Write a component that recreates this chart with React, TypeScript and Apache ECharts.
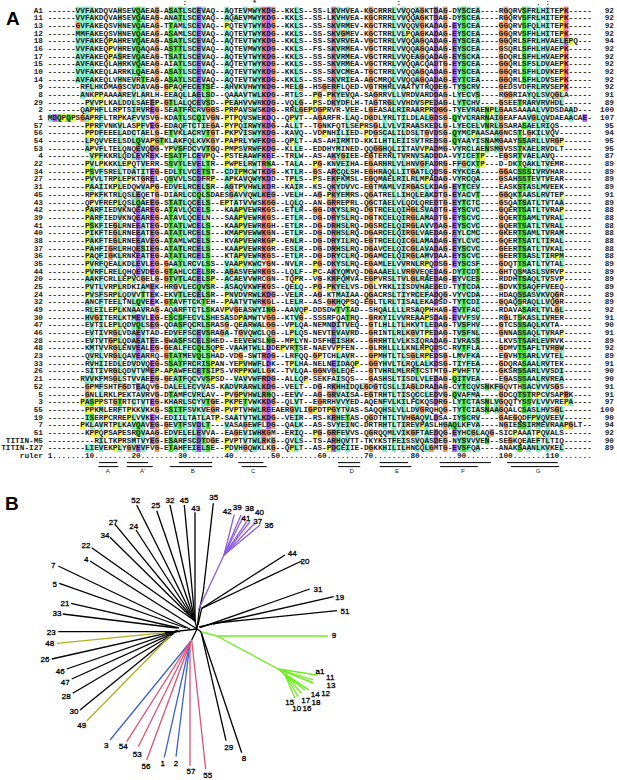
import React, { useEffect, useRef } from "react";
import * as echarts from "echarts";

const rowLabels = ["A1","11","13","12","18","16","17","15","10","14","9","8","29","2","1","57","56","54","53","4",
  "22","34","27","31","45","43","42","39","41","40","38","37","36","35","44","20","25","24","32","49","30",
  "47","46","28","48","23","33","26","21","52","5","3","55","19","7","51","TITIN-M5","TITIN-I27"];

const rowLengths = [92,92,92,92,94,92,92,92,92,92,92,91,89,100,107,95,94,95,95,87,
  89,89,89,89,91,89,88,88,88,88,88,88,88,89,89,89,89,89,89,92,91,
  90,91,89,92,89,91,90,90,91,91,97,100,90,94,92,90,89];

const seqLeft = [
"------VVFAKDQVAHSEVQAEAG-ASATLSCEVAQ--AQTEVMWYKDG--KKLS",
"------VVFAKDQVAHSEVQAEAG-ANATLSCEVAQ--AQAEVMWYKDG--KKLS",
"------GVFAKEQSVHNEVQAEAG-TTAMLSCEVAQ--PQTEVTWYKDG--KKLS",
"------MMFAKEQSVHNEVQAEAG-ASAMLSCEVAQ--AQTEVTWYKDG--KKLS",
"------VVFAKEQPAHREVQAEAG-ASATLSCEVAQ--AQTEVTWYKDG--KKLS",
"------VVFAKEQPVHREVQAQAG-ASTTLSCEVAQ--AQTEVMWYKDG--KKLS",
"------AVFAKEQPASREVQAEAG-TSATLSCEVAQ--AQTEVTWYKDG--KKLS",
"------AVFAKEQLAHRKVQAEAG-AIATLSCEVAQ--AQTEVTWYKDG--KKLS",
"------VVFAKEQLARRKLQAEAG-ASATLSCEVAQ--AQTEVTWYKDG--KKLS",
"------AVFAKEQLVHNEVRTEAG-ASATLSCEVAQ--AQTEVTWYKDG--KKLS",
"-------RFLHKDMAGSCVDAVAG-GPAQFECETSE--AHVKVHWYKDG--MELG",
"-------ANKPPAAAAREVLARLH-EEAQLLAELSD--QAAAVTWLKDG--RTLS",
"--------PVVPLKALDDLSAEEP-GTLALQCEVSD--PEAHVVWRKDG--VQLG",
"-------QAPHFLLRPTSIRVREG-SEATFRCRVGGS-PRPAVSWSKDG--RRLG",
"MDQPQPSGAPRFLTRPKAFVVSVG-KDATLSCQIVGN-PTPQVSWEKDQ--QPVT",
"--------PPRFVNKVLASPFVEG-EDAQFTCTIEGA-PYPQIRWYKDG--ALLT",
"--------PPDFEEELADCTAELG-ETVKLACRVTGT-PKPVISWYKDG--KAVQ",
"--------LPQVVEELSDLQVAPGTKLAKFQLKVKGY-PAPRLYWFKDG--QPLT",
"--------APVFLTELQNQEVQDG-YPVSFDCVVTGQ-PMPSVRWFKDG--KLLE",
"---------VPFKKRLQDLEVREK-ESATFLCEVPQ--PSTEAAWFKEE--TRLW",
"--------PVLPKKKLEPQTVERR-SSVTLEVELTR--PWPELRWTRNA--TALA",
"--------PSVFSRELTDATITEG-EDLTLVCETST--CDIPMCWTKDG--KTLR",
"--------PVVLTRPLEPKTGREL-QSVVLSCDFRP--APKAVQWYKDD--TPLS",
"--------PAAIIKPLEDQWVAPG-EDVELRCELSR--AGTPVHWLKDR--KAIR",
"--------RPKFKTRLQSLEQETG-DIARLCCQLSDAESGAVVQWLKEG--VELH",
"--------QPVFREPLQSLQAEEG-STATLQCELS--EPTATVVWSKGG--LQLQ",
"--------PARFIEDVKNQEAREG-ATAVLQCELS---KAAPVEWRKGS--ETLR",
"--------PARFIEDVKNQEAREG-ATAVLQCELN---SAAPVEWRKGS--ETLR",
"--------PSKFIEGLRNEEATEG-DTATLWCELS---KAAPVEWRKGH--ETLR",
"--------PIKFTEGLRNEEATEG-ATATLRCELS---KMAPVEWWKGN--ETLR",
"--------PAKFTEGLRNEEAVEG-ATAMLWCELS---KVAPVEWRKGP--ENLR",
"--------PAHFIGRLRHQESIEG-ATATLRCELS---KAAPVEWRKGR--ESLR",
"--------PAQFIGKLRNKEATEG-ATATLRCELS---KTAPVEWRKGS--ETLR",
"--------PVRFQEALKDLEVLEG-GAATLRCVLSS--VAAPVKWCYGN--NVLR",
"--------PVRFLRELQHQEVDEG-GTAHLCCELSR--AGASVEWRKGS--LQLF",
"--------AAKFCRLLEPVCGELG-GTVTLACELSP--ACAEVVWRCGN--TQPR",
"--------PVTLVRPLRDKIAMEK-HRGVLECQVSR--ASAQVKWFKGS--QELQ",
"--------PVSFSRPLQDVVTTEK-EKVTLECELSR--PNVDVRWLKDG--VELR",
"--------ANCFTEELTNLQVEEK-GTAVFTCKTEH--PAATVTWRKGL--LELR",
"--------RLEILEPLKNAAVRAG-AQARFTCTLSKAVPVGEASWYING--AAVQ",
"--------HVGITERLKTMEVLEG-ESCSFECVLSHESASDPAMWTVGG--KTVG",
"--------EVTILEPLQDVQLSEG-QDASFQCRLSRASG-QEARWALGG--VPLQ",
"--------EVTIVRGLVDAEVTAD-EDVEFSCEVSRAGA-TGVQWCLQG--LPLQ",
"--------EVTVTGPLQDAEATEE-GWASFSCELSHED--EEVEWSLNG--MPLY",
"--------KMTVVRGLENVEALEG-GEALFECQLSQPE-VAAHTWLLDDEPVRTS",
"--------QVRLVRGLQAVEARRQ-GTATMEVQLSHAD-VDG-SWTRDG--LRFQ",
"--------RVHIIEDLEDVDVQEG-SSATFRCRISPAN-YEPVHWFLDK--TPLH",
"--------SITIVRGLQDVTVMEP-APAWFECETSIPS-VRPPKWLLGK--TVLQ",
"-------RVVKFMSGLSTVVAEEG-GEATFQCVVSPSD--VAVVWFRDG--ALLQ",
"--------GPMFSHTFGDTEAQVG-DALELECVVAS-KADVRARWLKDG--VELT",
"--------GNLLRKLPEKTAVRVG-DTAMFCVRLAV--PVGPVHWLRNQ--EEVV",
"-------PASPPSTGTRTCTVTEG-KHARLSCYVTGE-PKPETVWKKDG--QLVT",
"--------PPKMLERFTPKKVKKG-SSITFSVKVEGR-PVPTVHWLREEAERGVL",
"--------ISERPCRREPLVVKEH-EDIILTATLATP-SAATVTWLKDG--VEIR",
"-------PKLAVRTPLKAVQAVEG-GEVTFSVDLT---VASAGEWFLDG--QALK",
"--------KPPQPSAPESRQVAAG-EDVELELEVVA--EAGEVIWHKGM--ERIQ",
"----------RILTKPRSMTVYEG-ESARFSCDTDGE-PVPTVTWLRKG--QVLS",
"--------LIEVEKPLYGVEVFVG-ETAHFEIELSE--PDVHGQWKLKG--QPLT",
];

const seqRight = [
"--SS-LKVHVEA-KGCRRRLVVQQAGKTDAG-DYSCEA----RGQRVSFRLHITEPK-----",
"--SS-LKVHVEA-KGCRRRLVVQQAGKTDAG-DYSCEA----RGQRVSFRLHITEPK-----",
"--SS-SKVRMEV-KGCTRRLVVQQVGKADAG-EYSCEA----GGQRVSFQLHITEPK-----",
"--SS-SKVGMEV-KGCTRRLVLPQAGKADAG-EYSCEA----GGQRVSFHLHITEPK-----",
"--SS-SKVRVEA-VGCTRRLVVQQAGQADAG-EYSCEA----GGQRLSFRLHVAELEPQ---",
"--FS-SKVRMEA-VGCTRRLVVQQAGQADAG-EYSCEA----GSQRLSFHLHVAEPK-----",
"--SS-SKVRMEA-VGCTRRLVVQEAGQADAG-EYSCKA----GDQRLSFHLHVAEPK-----",
"--SS-SKVRMEA-VGCTRRLVVQQACQADTG-EYSCEA----GGQRLSFSLDVAEPK-----",
"--SS-SKVCMEA-TGCTRRLVVQQAGQADAG-EYSCEA----GGQRLSFHLDVKEPK-----",
"--SS-SKVRIEA-AGCMRQLVVQQAGQADAG-EYTCEA----GGQRLSFHLDVSEPK-----",
"--HSGERFLQED-VGTRHRLVAATVTRQDEG-TYSCRV----GEDSVDFRLRVSEPK-----",
"--PG-PKYEVQA-SAGRRVLLVRDVARDDAG-LYECVS----RGGRIAYQLSVQGLA-----",
"--PS-DKYDFLH-TAGTRGLVVHDVSPEDAG-LYTCHV----GSEETRARVRVHDL------",
"EPDGPRVR-VEE-LGEASALRIRAARPRDGG-TYEVRAENPLGAASAAAALVVDSDAAD---",
"--AGARFR-LAQ-DGDLYRLTILDLALGDSG-QYVCRARNAIGEAFAAVGLQVDAEAACAE-",
"--TGNKFQTLSEPRSGLLVLVIRAASKEDLG-LYECELVNRLGSARASAELRIQS-------",
"--VDPNHILIED-PDGSCALILDSLTGVDSG-QYMCPAASAAGNCSTLGKILVQV-------",
"--AS-AHIRMTD-KKILHTLEIISVTREDSG-QYAAYISNAMGAAYSSARLLVRGP------",
"--EDDHYMINED-QQGGHQLIITAVVPADMG-VYRCLAENSMGVSSTKAELRVDLT------",
"--AS-AKYGIEE-EGTERRLTVRNVSADDDA-VYICETP---EGSRTVAELAVQ--------",
"--PG-KNVEIHA-EGARHRLVLHNVGFADRG-FFGCKTP---D-DKTQAKLTVEMR------",
"--GS-ARCQLSH-EGHRAQLLITGATLQDSG-RYKCEA----GGACSSSIVRVHAR------",
"--PS-EKFKMSL-EGQMAELRILRLMPADAG-VYRCQA----GSAHSSTEVTVEAR------",
"--KS-QKYDVVC-EGTMAMLVIRGASLKDAG-EYTCEV----EASKSTASLMVEEK------",
"--AG-PKYEMRS-QGATRELLIHQLEAKDTG-EYACVT----GGQKTAASLRVTEP------",
"--AN-GRREPRL-QGCTAELVLQDLQREDTG-EYTCTC----GSQATSATLTVTAA------",
"--GG-DKYSLRQ-DGTRCELQIHGLSVADTG-EYSCVC----GQERTSATLTVRAP------",
"--DG-DRYSLRQ-DGTKCELQIRGLAMADTG-EYSCVC----GQERTSAMLTVRAL------",
"--DG-DRHSLRQ-DGSRCELQIRGLAVVDAG-EYSCVC----GQERTSATLTVRAL------",
"--DG-DRHSLRQ-DGARCELQIRGLVAEDAG-EYLCMC----GKERTSAMLTVRAM------",
"--DG-DRYILRQ-EGTRCELQICGLAMADAG-EYLCVC----GQERTSATLTIRAL------",
"--DG-DRHSLRQ-DGAVCELQICGLAVADAG-EYSCVC----GEERTSATLTVKAL------",
"--DG-DRYCLRQ-DGAMCELQIRGLAMVDAA-EYSCVC----GEERTSASLTIRPM------",
"--PG-DKYSLRQ-EGAMLELVVRNLRPQDSG-EYSCSF----GDQTTSATLTVTAL------",
"--PC-AKYQMVQ-DGAAAELLVRGVEQEDAG-DYTCDT----GHTQSMASLSVRVP------",
"--VG-KRFQMVA-EGPVRSLTVLGLRAEDAG-EYVCES----RDDHTSAQLTVSVP------",
"--PG-PKYELVS-DGLYRKLIISDVHAEDED-TYTCDA----GDVKTSAQFFVEEQ------",
"--AG-KTMAIAA-QGACRSLTIYRCEFADQG-VYVCDA----HDAQSSASVKVQGR------",
"--AS-GKHQPSQ-EGLTLRLTISALEKADSD-TYTCDI----GQAQSRAQLLVQGR------",
"P-DDSDWTVTAD--SHQALLLLRSAQPHHAG-EVTFAC----RDAVASARLTVLGL------",
"--SSSRFQATRQ--GRKYILVVREAAPSDAG-EVVFSV----RGLTSKASLIVRER------",
"A-NEMNDITVEQ--GTLHLLTLHKVTLEDAG-TVSFHV----GTCSSSAQLKVTA-------",
"S-NEVTEVAVRD--GRINTLRLKGVTPEDAG-TVSFNL----GNNASSAQLTVRAP------",
"N-DSFHEISHK---GRRHTLVLKSIQRADAG-IVRASS----LKVSTSARLEVRVK------",
"E-NAEVVPFEN---GLRHLLLLKNLRPQDSC-RVTFLA----GDMVTSAFLTVRGW------",
"Q-GPTCHLAVR---GPMHTLTLSGLRPEDSG-LMVFKA----EGVHTSARLVVTEL------",
"A-NELNEIDAQP--GGYHVLTLRQLALKDSG-TIYFEA----GDQRASAALRVTEK------",
"A-GGNVGLEQE---GTVHRLMLRRTCSTMTG-PVHFTV----GKSRSSARLVVSDI------",
"P-SEKFAISQS---GASHSLTISDLVLEDAG-QITVEA----EGASSSAALRVREA------",
"--DG-RKHHIDQLGDGTCSLLIAGLDRADAG-CYTCQVSNKFGQVTHSACVVVSGS------",
"--AG-GRVAISA-EGTRHTLTISQCCLEDVG-QVAFMA----GDCQTSTRPCVSAPRK----",
"--EGRRHVVYED-AQENFVLKILFCKQSDRG-LYTCTASNLVGQQTYSSVLVVVREPA----",
"IGPDTPGYTVAS-SAQQHSLVLLDVGRQHQG-TYTCIASNAAGQALCSASLHVSGL------",
"--RS-KRHETAS-QGDTHTLTVHGAQVLDSA-IYSCRV----GAEGQDFPVQVEEV------",
"--AS-SVYEINC-DRTRHTLTIREVPASLHGAQLKFVA----NGIESSIRMEVRAAPGLT--",
"--PG-GRFEVVS-QGRQQMLVIKGFTAEDQG-EYHCGLAQG-SICPAAATPQVALS------",
"--TS-ARHQVTT-TKYKSTFEISSVQASDEG-NYSVVVEN--SEGKQEAEFTLTIQ------",
"--AS-PDCEIIE-DGKKHILILHNCQLGMTG-EVSFQA----ANAKSAANLKVKEL------",
];

const rulerText = "1.......10........20........30........40........50........60........70........80........90.......100.......110.......";
const conservationMarks: [number, string][] = [[30, ":"], [45, "*"], [76, ":"], [106, "."], [108, ":"]];

// name, top bar [from, to], bottom bar [from, to], label column
const strands: [string, number, number, number, number, number][] = [
  ["A", 11.6, 15.5, 11.4, 15.7, 13.4],
  ["A'", 17.5, 22.1, 17.5, 23.1, 20.9],
  ["B", 28.7, 35.9, 26.8, 35.9, 31.7],
  ["C", 41.5, 46.9, 42.2, 47.6, 44.7],
  ["D", 62.9, 67.7, 63.0, 67.7, 65.9],
  ["E", 71.9, 78.0, 71.9, 78.7, 75.6],
  ["F", 84.8, 95.8, 84.9, 93.0, 89.8],
  ["G", 99.3, 110.2, 100.1, 110.5, 106],
];

// tree: [x1, y1, x2, y2] in the tree's plane
const blackEdges = [
  [197,629,195,621],[195,621,136.7,505],[195,621,156.7,510.7],[195,621,170,505],[195,621,184.3,505],[195,621,195,512.3],
  [197,629,199,612],[199,612,203.3,591.7],[203.3,591.7,213.3,503.3],
  [195,621,115,524.3],[195,621,136,530],[195,621,110,537.3],[195,621,91.7,547.7],
  [197,629,90,561],[190,629,58.3,566],[186,628,59.3,583.3],[179,628,71,603.3],[177,628,62.7,614],
  [197,629,165,632.7],[180,631.7,58.3,631.7],[178,630.7,51.7,659],[178,630.7,66.7,669],[176.7,631.7,71.7,679],[173.3,634,72.7,693.3],[170,636.7,80,710],
  [197,629,191.7,640],
  [198,625,201.7,608.3],[201.7,608.3,285,555],[201.7,608.3,301.7,561],
  [199,627,216,623],[200,627.7,309.7,589],[213,624,333.7,596.7],[216,623,337,610.7],
  [197,629,201,631.7],[201,631.7,226,740.7],[201,631.7,241.7,752.7],
];
const purpleEdges = [
  [198.3,610,224,555],[224,555,234.3,514.3],[224,555,241,515],[224,555,243.3,516.7],[224,555,246.7,521.7],[224,555,250,521.7],[224,555,255,523],[224,555,260,525],
];
const greenEdges = [
  [201,631.7,216.7,636],[216.7,636,328,636],[216.7,636,278.3,669],
  [278.3,669,317,675],[278.3,669,313.7,680],[278.3,669,313.7,683.3],[278.3,669,312,682],[278.3,669,285,675],[278.3,669,308.7,690],
  [285,675,295,698.3],[285,675,298.3,696.7],[285,675,301.7,693.3],[285,675,305,690],[285,675,308,689.3],
];
const oliveEdges = [[165,632.7,56.7,643.3],[170,636,86.7,721]];
const blueEdges = [[191,641,110,740],[190,643,164.3,757.3],[190,643,176,756.7]];
const redEdges = [[190.7,641,126.7,741.7],[190.7,641,138.3,746.7],[190.7,641,146.7,760],[190,643,190,765.7],[191.7,640,205.7,769.3]];

const leafLabels: [string, number, number][] = [
  ["52",135.7,500.7],["25",155.7,505],["32",170,500],["45",184.3,500],["43",195.7,508.3],["35",213.7,497.7],
  ["42",227.3,511],["39",237.3,507.7],["38",249.4,508],["40",259.5,512.7],["41",246,518],["37",257.7,521.2],["36",269,525.7],
  ["27",113.3,522.7],["24",133.7,526],["34",105,535.7],["22",86,545.7],["4",86.3,559.7],["7",53.3,565.7],["5",54.7,584],
  ["21",65,603],["33",57,613.7],["23",51.3,632],["48",49.7,643.7],["26",45,659.3],["46",60.3,671.3],["47",65.3,682.3],
  ["28",66.3,696.3],["30",74,711.3],["49",81.7,725],["3",106.3,745],["54",123.3,746.7],["53",137.3,754],["56",146,766.3],
  ["1",162.7,763],["2",176,763],["57",191,771.7],["55",207.7,775.7],["29",228.7,747],["8",244,758.3],
  ["44",292.3,553.7],["20",305,561.7],["31",318,589.3],["19",339.7,597],["51",345,611.7],["9",334,635.7],
  ["a1",320,671.7],["11",330.2,677],["13",331,685],["12",325.6,693],["14",315.3,694.3],["18",316,702.7],
  ["17",305.7,700],["16",306.9,708.5],["10",296.8,708.7],["15",289.7,702.3],
];

const TEAL = "#7FEBC7", GREEN = "#4EE02B", ORANGE = "#F29A5F", YELLOW = "#F7F23E", PURPLE = "#A163EC", RED = "#EF7088";
const COL_W = 4.65, ROW_H = 7.68;
const MONO = '"Liberation Mono", monospace';

const sequences = seqLeft.map((l, i) => l.padEnd(55, "-").slice(0, 55) + seqRight[i].padEnd(62, "-").slice(0, 62));

function residueColour(r: string, col: string[]): string | null {
  const res = col.filter((c) => c !== "-");
  const frac = (set: string) => res.filter((c) => set.includes(c)).length / Math.max(res.length, 1);
  const hyd = frac("WLVIMAFCYHP");
  if (r === "G") return ORANGE;
  if (r === "P") return YELLOW;
  if ("ACILMFWVYH".includes(r)) return hyd > 0.6 || res.length < 2 ? TEAL : null;
  if (r === "K" || r === "R") return frac("KR") > 0.6 ? RED : null;
  if (r === "Q") return frac("KR") > 0.6 || frac("QE") > 0.5 || res.length < 2 ? GREEN : null;
  if (r === "E") return frac("KR") > 0.6 || frac("QE") > 0.5 || frac("ED") > 0.5 ? PURPLE : null;
  if (r === "D") return frac("KR") > 0.6 || frac("ED") > 0.5 || res.length < 2 ? PURPLE : null;
  if (r === "N") return frac("N") > 0.5 || frac("D") > 0.5 ? GREEN : null;
  if (r === "S" || r === "T") return frac("TS") > 0.5 || hyd > 0.85 ? GREEN : null;
  return null;
}

function buildCells() {
  const out: [number, number, string][] = [];
  for (let c = 0; c < 117; c++) {
    const col = sequences.map((s) => s[c]);
    sequences.forEach((s, row) => {
      if (s[c] === "-") return;
      const colour = residueColour(s[c], col);
      if (colour) out.push([c + 1, row, colour]);
    });
  }
  return out;
}

function conservationLine() {
  const chars = new Array(117).fill(" ");
  conservationMarks.forEach(([c, m]) => { chars[c - 1] = m; });
  return chars.join("").replace(/\s+$/, "");
}

export default function App() {
  const ref = useRef<HTMLDivElement>(null);
  useEffect(() => {
    if (!ref.current) return;
    document.body.style.margin = "0";
    const chart = echarts.init(ref.current, undefined, { renderer: "svg" });
    const cells = buildCells();
    const rowTexts: [number, string][] = sequences.map((s, i) => [i, s]);
    rowTexts.push([rowLabels.length, rulerText]);
    rowTexts.push([-1, conservationLine()]);

    const edgeSeries = (edges: number[][], colour: string) => ({
      type: "custom", xAxisIndex: 1, yAxisIndex: 1, silent: true, data: edges,
      clip: false,
      renderItem: (_p: any, api: any) => {
        const a = api.coord([api.value(0), api.value(1)]);
        const b = api.coord([api.value(2), api.value(3)]);
        return { type: "line", shape: { x1: a[0], y1: a[1], x2: b[0], y2: b[1] }, style: { stroke: colour, lineWidth: 1.3 } };
      },
    });

    const strandBars: number[][] = [];
    strands.forEach((s) => {
      strandBars.push([s[1], 58.87, s[2]]);
      strandBars.push([s[3], 59.39, s[4]]);
    });

    chart.setOption({
      animation: false,
      backgroundColor: "#fff",
      grid: [
        { left: 1.175, width: 132 * COL_W, top: 0.9, height: 61.75 * ROW_H },
        { left: 0, top: 490, width: 360, height: 290 },
      ],
      xAxis: [
        { type: "value", min: -9.5, max: 122.5, show: false },
        { type: "value", min: 0, max: 360, show: false, gridIndex: 1 },
      ],
      yAxis: [
        { type: "value", min: -1.25, max: 60.5, inverse: true, show: false },
        { type: "value", min: 490, max: 780, inverse: true, show: false, gridIndex: 1 },
      ],
      graphic: [
        { type: "text", x: 6, y: 9, style: { text: "A", font: 'bold 19px "Liberation Sans"', fill: "#000" } },
        { type: "text", x: 5, y: 494, style: { text: "B", font: 'bold 19px "Liberation Sans"', fill: "#000" } },
      ],
      series: [
        {
          type: "custom", silent: true, progressive: 0, data: cells.map((c) => [c[0], c[1]]),
          renderItem: (p: any, api: any) => {
            const pos = api.coord([api.value(0) - 0.5, api.value(1) - 0.5]);
            return { type: "rect", shape: { x: pos[0], y: pos[1], width: COL_W, height: ROW_H }, style: { fill: cells[p.dataIndex][2] } };
          },
        },
        {
          type: "custom", silent: true, data: rowTexts.map((t) => [t[0]]),
          renderItem: (p: any, api: any) => {
            const it = rowTexts[p.dataIndex];
            const pos = api.coord([0.5, it[0]]);
            return { type: "text", style: { x: pos[0], y: pos[1], text: it[1], font: `bold 7.75px ${MONO}`, fill: "#1c1c1c", align: "left", verticalAlign: "middle" } };
          },
        },
        {
          type: "custom", silent: true, data: rowLabels.concat(["ruler"]).map((_t, i) => [i]),
          renderItem: (p: any, api: any) => {
            const pos = api.coord([-0.5, p.dataIndex]);
            return { type: "text", style: { x: pos[0], y: pos[1], text: p.dataIndex < rowLabels.length ? rowLabels[p.dataIndex] : "ruler", font: `bold 7.75px ${MONO}`, fill: "#222", align: "right", verticalAlign: "middle" } };
          },
        },
        {
          type: "custom", silent: true, data: rowLengths.map((_t, i) => [i]),
          renderItem: (p: any, api: any) => {
            const pos = api.coord([122.3, p.dataIndex]);
            return { type: "text", style: { x: pos[0], y: pos[1], text: String(rowLengths[p.dataIndex]), font: `bold 7.75px ${MONO}`, fill: "#222", align: "right", verticalAlign: "middle" } };
          },
        },
        {
          type: "custom", silent: true, data: strandBars,
          renderItem: (_p: any, api: any) => {
            const a = api.coord([api.value(0), api.value(1)]);
            const b = api.coord([api.value(2), api.value(1)]);
            return { type: "line", shape: { x1: a[0], y1: a[1], x2: b[0], y2: b[1] }, style: { stroke: "#000", lineWidth: 1 } };
          },
        },
        {
          type: "custom", silent: true, data: strands.map((s) => [s[5], 59.95]),
          renderItem: (p: any, api: any) => {
            const pos = api.coord([api.value(0), api.value(1)]);
            return { type: "text", style: { x: pos[0], y: pos[1], text: strands[p.dataIndex][0], font: '6px "Liberation Sans"', fill: "#222", align: "center", verticalAlign: "middle" } };
          },
        },
        edgeSeries(blackEdges, "#000"),
        edgeSeries(purpleEdges, "#8B5BE0"),
        edgeSeries(greenEdges, "#6CF01C"),
        edgeSeries(oliveEdges, "#B5AE1E"),
        edgeSeries(blueEdges, "#3C62D2"),
        edgeSeries(redEdges, "#E2506F"),
        {
          type: "custom", xAxisIndex: 1, yAxisIndex: 1, silent: true, data: leafLabels.map((l) => [l[1], l[2]]),
          renderItem: (p: any, api: any) => {
            const pos = api.coord([api.value(0), api.value(1)]);
            return { type: "text", style: { x: pos[0], y: pos[1], text: leafLabels[p.dataIndex][0], font: '8px "Liberation Sans"', fill: "#000", stroke: "#000", lineWidth: 0.3, align: "center", verticalAlign: "middle" } };
          },
        },
      ],
    });
    return () => chart.dispose();
  }, []);
  return <div ref={ref} style={{ position: "absolute", left: 0, top: 0, width: 617, height: 780 }} />;
}
